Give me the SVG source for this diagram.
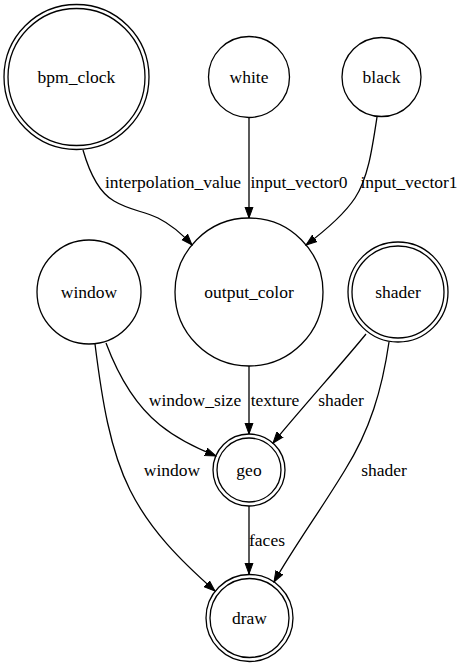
<svg xmlns="http://www.w3.org/2000/svg" width="467" height="668" viewBox="0 0 467 668">
<style>
.n ellipse{fill:none;stroke:#000;stroke-width:1.3}
text{font-family:'Liberation Serif',serif;font-size:17.5px;fill:#000;text-anchor:middle}
.e path{fill:none;stroke:#000;stroke-width:1.3;marker-end:url(#ah)}
</style>
<defs>
<marker id="ah" markerUnits="userSpaceOnUse" viewBox="0 -5 12 10" refX="11" refY="0" markerWidth="12" markerHeight="10" orient="auto">
<path d="M0,-4 L11,0 L0,4 z" fill="#000" stroke="#000" stroke-width="1"/>
</marker>
</defs>
<rect width="467" height="668" fill="#fff"/>
<g class="e" id="connectors">
<path d="M83,150 C89,171 98,192 114,201 C129,210 143,211 158,218 C170,224 182,234 192,245"/>
<path d="M249,117 L249,218"/>
<path d="M377,117 C372,150 368,178 355,198 C343,216 322,233 306,245"/>
<path d="M106,343 C118,375 135,405 160,425 C176,438 196,448 216,456"/>
<path d="M95,344 C102,400 110,450 130,490 C150,530 180,560 215,591"/>
<path d="M249,366 L249,434"/>
<path d="M366,334 C345,360 300,410 273,443"/>
<path d="M389,342 C382,390 370,430 345,470 C322,508 292,550 274,582"/>
<path d="M249,506 L249,574"/>
<text font-family="Liberation Serif" x="173" y="188">interpolation_value</text>
<text font-family="Liberation Serif" x="299" y="188">input_vector0</text>
<text font-family="Liberation Serif" x="409" y="188">input_vector1</text>
<text font-family="Liberation Serif" x="195" y="406">window_size</text>
<text font-family="Liberation Serif" x="275" y="406">texture</text>
<text font-family="Liberation Serif" x="341" y="406">shader</text>
<text font-family="Liberation Serif" x="172" y="476">window</text>
<text font-family="Liberation Serif" x="384" y="476">shader</text>
<text font-family="Liberation Serif" x="267" y="546">faces</text>
</g>
<g class="n" id="bpm_clock"><ellipse cx="76.5" cy="77" rx="72.5" ry="72.5"/><ellipse cx="76.5" cy="77" rx="68.5" ry="68.5"/><text font-family="Liberation Serif" x="76.5" y="82.5">bpm_clock</text></g>
<g class="n" id="white"><ellipse cx="249" cy="77" rx="40.5" ry="40.5"/><text font-family="Liberation Serif" x="249" y="82.5">white</text></g>
<g class="n" id="black"><ellipse cx="381.5" cy="77" rx="39.5" ry="39.5"/><text font-family="Liberation Serif" x="381.5" y="82.5">black</text></g>
<g class="n" id="output_color"><ellipse cx="249" cy="292" rx="74" ry="74"/><text font-family="Liberation Serif" x="249" y="297.5">output_color</text></g>
<g class="n" id="window"><ellipse cx="89" cy="292" rx="52" ry="52"/><text font-family="Liberation Serif" x="89" y="297.5">window</text></g>
<g class="n" id="shader"><ellipse cx="398" cy="292" rx="50" ry="50"/><ellipse cx="398" cy="292" rx="46" ry="46"/><text font-family="Liberation Serif" x="398" y="297.5">shader</text></g>
<g class="n" id="geo"><ellipse cx="249" cy="470" rx="36" ry="36"/><ellipse cx="249" cy="470" rx="32" ry="32"/><text font-family="Liberation Serif" x="249" y="475.5">geo</text></g>
<g class="n" id="draw"><ellipse cx="249.5" cy="618" rx="43.5" ry="43.5"/><ellipse cx="249.5" cy="618" rx="39.5" ry="39.5"/><text font-family="Liberation Serif" x="249.5" y="623.5">draw</text></g>
</svg>
